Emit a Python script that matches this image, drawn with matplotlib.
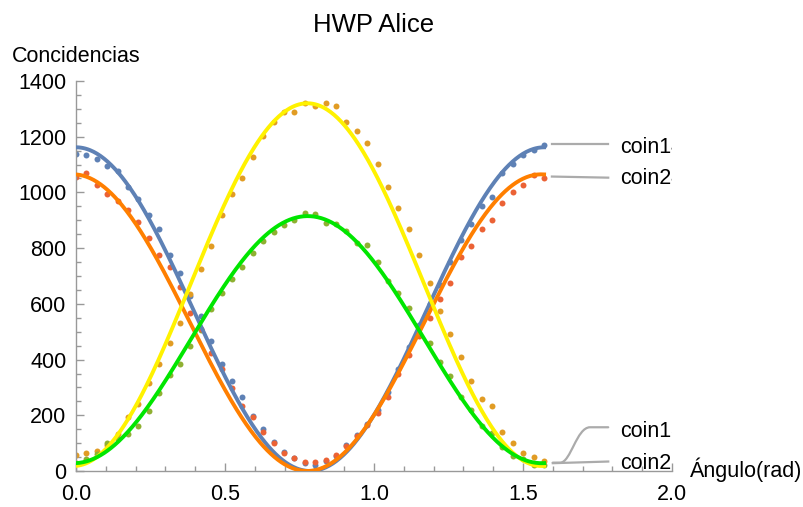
import numpy as np
import matplotlib.pyplot as plt
from matplotlib.path import Path
from matplotlib.patches import PathPatch

plt.rcParams['font.family'] = ['Liberation Sans', 'DejaVu Sans']

# HWP angle, steps of 2 degrees
angle_deg = list(range(0, 92, 2))

coin_blue = [1138, 1134, 1119, 1095, 1078, 1018, 978, 920, 869, 777, 710, 630, 558, 467, 384, 324,
             267, 199, 149, 105, 70, 45, 30, 23, 35, 55, 95, 130, 170, 219, 285, 365, 445, 525,
             600, 668, 751, 829, 887, 951, 985, 1071, 1102, 1134, 1152, 1170]
coin_red = [1057, 1071, 1027, 994, 971, 937, 895, 835, 777, 734, 662, 568, 510, 425, 366, 299,
            233, 193, 140, 99, 66, 48, 33, 32, 40, 56, 91, 124, 165, 210, 265, 350, 416, 485,
            550, 617, 676, 767, 809, 868, 901, 961, 1003, 1027, 1063, 1051]
coin_orange = [57, 66, 73, 95, 132, 193, 239, 315, 383, 458, 532, 634, 725, 809, 919, 994,
               1053, 1128, 1203, 1254, 1288, 1288, 1322, 1312, 1322, 1312, 1254, 1222, 1179, 1103,
               1020, 944, 869, 775, 676, 576, 492, 408, 324, 257, 232, 141, 99, 66, 50, 35]
coin_green = [30, 42, 60, 99, 115, 132, 162, 215, 281, 345, 383, 449, 505, 580, 638, 690,
              734, 784, 827, 859, 883, 901, 927, 921, 891, 886, 862, 817, 810, 751, 681, 638,
              584, 521, 458, 392, 341, 265, 218, 160, 135, 87, 55, 42, 22, 22]

# fitted curves: offset + amp * cos^2(2(x - x0)) or sin^2
fit_blue = (0, 1162, 0.0)
fit_orange = (0, 1065, -0.01)
fit_yellow = (18, 1302, -0.009)
fit_green = (28, 887, -0.008)

labels = ['coin14', 'coin24', 'coin13', 'coin23']

x = np.deg2rad(angle_deg)
xf = np.linspace(0, np.pi / 2, 400)

def cos2(p):
    return p[0] + p[1] * np.cos(2 * (xf - p[2])) ** 2

def sin2(p):
    return p[0] + p[1] * np.sin(2 * (xf - p[2])) ** 2

fig = plt.figure(figsize=(8.04, 5.07), dpi=100)
ax = fig.add_axes([76 / 804, 36 / 507, 596 / 804, 390 / 507])

ms = 4.3
ax.plot(x, coin_blue, 'o', color='#5E81B5', ms=ms, mew=0, zorder=2)
ax.plot(x, coin_orange, 'o', color='#E19C24', ms=ms, mew=0, zorder=2)
ax.plot(x, coin_green, 'o', color='#8FB032', ms=ms, mew=0, zorder=2)
ax.plot(x, coin_red, 'o', color='#EB6235', ms=ms, mew=0, zorder=2)

lw = 2.8
ax.plot(xf, cos2(fit_blue), color='#5E81B5', lw=lw, zorder=3)
ax.plot(xf, cos2(fit_orange), color='#FF7F00', lw=lw, zorder=3)
ax.plot(xf, sin2(fit_yellow), color='#FFF200', lw=lw, zorder=3)
ax.plot(xf, sin2(fit_green), color='#00E600', lw=lw, zorder=3)

# callout lines and labels
gray = '#ABABAB'
ax.plot([1.597, 1.786], [1174, 1174], color=gray, lw=1.6, zorder=1)
ax.plot([1.597, 1.786], [1057, 1053], color=gray, lw=1.6, zorder=1)
ax.plot([1.600, 1.786], [28, 34], color=gray, lw=1.6, zorder=1)
verts = [(1.600, 30), (1.625, 30), (1.66, 30), (1.68, 157), (1.725, 157), (1.786, 157)]
codes = [Path.MOVETO, Path.LINETO, Path.CURVE4, Path.CURVE4, Path.CURVE4, Path.LINETO]
ax.add_patch(PathPatch(Path(verts, codes), fill=False, edgecolor=gray, lw=1.6,
                       capstyle='round', joinstyle='round', zorder=1))

fs = 15.5
ax.text(1.825, 1140, labels[0], fontsize=fs, va='baseline', clip_on=True)
ax.text(1.825, 1030, labels[1], fontsize=fs, va='baseline', clip_on=True)
ax.text(1.825, 122, labels[2], fontsize=fs, va='baseline', clip_on=True)
ax.text(1.825, 7, labels[3], fontsize=fs, va='baseline', clip_on=True)

ax.set_xlim(0, 2)
ax.set_ylim(0, 1400)
ax.set_xticks([0, 0.5, 1.0, 1.5, 2.0])
ax.set_xticklabels(['0.0', '0.5', '1.0', '1.5', '2.0'])
ax.set_xticks(np.arange(0, 2.01, 0.1), minor=True)
ax.set_yticks(range(0, 1401, 200))
ax.set_yticks(range(0, 1401, 50), minor=True)

for s in ['top', 'right']:
    ax.spines[s].set_visible(False)
for s in ['left', 'bottom']:
    ax.spines[s].set_color('#999999')
    ax.spines[s].set_linewidth(1.0)
ax.tick_params(which='both', direction='in', color='#999999', width=1.0, labelsize=fs)
ax.tick_params(which='major', length=6)
ax.tick_params(which='minor', length=3.5)
ax.tick_params(axis='y', pad=7)
ax.tick_params(axis='x', pad=9)

fig.text(374 / 804, 1 - 32 / 507, 'HWP Alice', fontsize=18.5, ha='center', va='baseline')
fig.text(12 / 804, 1 - 62 / 507, 'Concidencias', fontsize=fs, va='baseline')
fig.text(690 / 804, 1 - 477 / 507, 'Ángulo(rad)', fontsize=fs, va='baseline')

fig.savefig('out.png', dpi=100)
